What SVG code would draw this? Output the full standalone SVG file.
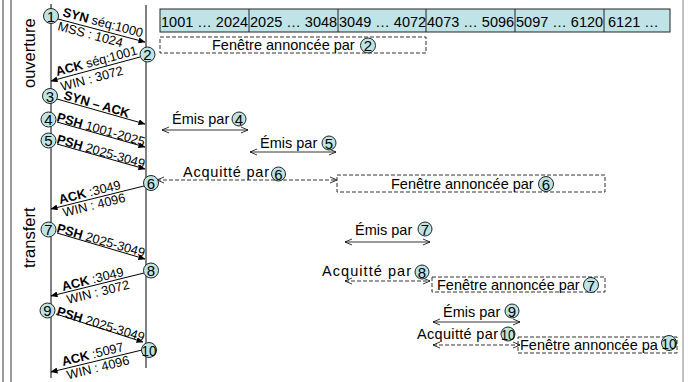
<svg xmlns="http://www.w3.org/2000/svg" width="693" height="382" viewBox="0 0 693 382">
<defs>
<marker id="ah" markerWidth="7" markerHeight="6" refX="6.5" refY="3" orient="auto" markerUnits="userSpaceOnUse"><path d="M0,0 L7,3 L0,6 z" fill="#000"/></marker>
<marker id="ov" markerWidth="8" markerHeight="8" refX="7" refY="4" orient="auto-start-reverse" markerUnits="userSpaceOnUse"><path d="M0,1 L7,4 L0,7" fill="none" stroke="#000" stroke-width="0.8"/></marker>
</defs>
<style>
text{font-family:"Liberation Sans",Arial,sans-serif;fill:#000}
.lbl{font-size:12.8px}
.b{font-weight:bold}
.num{font-size:15px;text-anchor:middle}
.cell{font-size:14.5px}
.big{font-size:14.5px}
.acq{font-size:14.5px}
.side{font-size:16.5px}
circle.n{fill:#bde3e3;stroke:#222;stroke-width:1}
.msg{stroke:#000;stroke-width:1;fill:none;marker-end:url(#ah)}
.dbl{stroke:#000;stroke-width:0.8;fill:none;marker-start:url(#ov);marker-end:url(#ov)}
.dsh{stroke:#000;stroke-width:0.8;fill:none;stroke-dasharray:4,2;marker-start:url(#ov);marker-end:url(#ov)}
.win{fill:none;stroke:#333;stroke-width:1;stroke-dasharray:4,2}
.tl{stroke:#000;stroke-width:1}
</style>
<rect width="693" height="382" fill="#fff"/>
<g id="frame">
<line x1="3" y1="0" x2="3" y2="382" stroke="#333" stroke-width="1"/>
<line x1="11" y1="0" x2="11" y2="382" stroke="#333" stroke-width="1"/>
<line x1="683" y1="0" x2="683" y2="382" stroke="#999" stroke-width="1.2"/>
<text class="side" transform="translate(35,88) rotate(-90)">ouverture</text>
<text class="side" transform="translate(35,268) rotate(-90)">transfert</text>
</g>
<g id="timelines">
<line class="tl" x1="51" y1="4" x2="51" y2="378"/>
<line class="tl" x1="146" y1="5" x2="146" y2="368"/>
</g>
<g id="seqbar">
<rect x="160" y="9" width="510" height="23" fill="#bfe3e6" stroke="#222" stroke-width="1"/>
<line x1="249" y1="9" x2="249" y2="32" stroke="#222"/>
<line x1="338" y1="9" x2="338" y2="32" stroke="#222"/>
<line x1="426" y1="9" x2="426" y2="32" stroke="#222"/>
<line x1="515" y1="9" x2="515" y2="32" stroke="#222"/>
<line x1="604" y1="9" x2="604" y2="32" stroke="#222"/>
<text class="cell" x="161" y="27">1001 … 2024</text>
<text class="cell" x="250" y="27">2025 … 3048</text>
<text class="cell" x="339" y="27">3049 … 4072</text>
<text class="cell" x="427" y="27">4073 … 5096</text>
<text class="cell" x="516" y="27">5097 … 6120</text>
<text class="cell" x="608" y="27">6121 …</text>
</g>
<g id="connectors">
<line class="msg" x1="58" y1="19" x2="145" y2="42"/>
<line class="msg" x1="140" y1="57" x2="51" y2="81"/>
<line class="msg" x1="57" y1="99" x2="145" y2="124"/>
<line class="msg" x1="57" y1="122" x2="145" y2="147"/>
<line class="msg" x1="57" y1="144" x2="145" y2="169"/>
<line class="msg" x1="144" y1="186" x2="51" y2="209"/>
<line class="msg" x1="57" y1="233" x2="145" y2="259"/>
<line class="msg" x1="144" y1="273" x2="51" y2="296"/>
<line class="msg" x1="56" y1="314" x2="143" y2="342"/>
<line class="msg" x1="142" y1="350" x2="51" y2="372"/>
<line class="dbl" x1="162" y1="130" x2="248" y2="130"/>
<line class="dbl" x1="250" y1="152" x2="336" y2="152"/>
<line class="dsh" x1="157" y1="180" x2="337" y2="180"/>
<line class="dbl" x1="345" y1="242" x2="430" y2="242"/>
<line class="dsh" x1="345" y1="281" x2="430" y2="281"/>
<line class="dbl" x1="433" y1="322" x2="520" y2="322"/>
<line class="dsh" x1="433" y1="345" x2="520" y2="345"/>
</g>
<g id="msglabels">
<text class="lbl" transform="translate(62,16) rotate(15)"><tspan class="b">SYN</tspan> séq:1000</text>
<text class="lbl" transform="translate(57,30) rotate(15)">MSS : 1024</text>
<text class="lbl" transform="translate(57,76) rotate(-15)"><tspan class="b">ACK</tspan> séq:1001</text>
<text class="lbl" transform="translate(62,91) rotate(-15)">WIN : 3072</text>
<text class="lbl b" transform="translate(63,99) rotate(16)">SYN – ACK</text>
<text class="lbl" transform="translate(56,121) rotate(16)"><tspan class="b">PSH</tspan> 1001-2025</text>
<text class="lbl" transform="translate(56,143) rotate(16)"><tspan class="b">PSH</tspan> 2025-3049</text>
<text class="lbl" transform="translate(60,204) rotate(-14)"><tspan class="b">ACK</tspan> :3049</text>
<text class="lbl" transform="translate(64,217) rotate(-14)">WIN : 4096</text>
<text class="lbl" transform="translate(56,232) rotate(16)"><tspan class="b">PSH</tspan> 2025-3049</text>
<text class="lbl" transform="translate(63,291) rotate(-14)"><tspan class="b">ACK</tspan> :3049</text>
<text class="lbl" transform="translate(68,304) rotate(-14)">WIN : 3072</text>
<text class="lbl" transform="translate(56,315) rotate(17)"><tspan class="b">PSH</tspan> 2025-3049</text>
<text class="lbl" transform="translate(63,366) rotate(-14)"><tspan class="b">ACK</tspan> :5097</text>
<text class="lbl" transform="translate(68,379.5) rotate(-14)">WIN : 4096</text>
</g>
<g id="win2">
<rect class="win" x="160" y="37" width="266" height="16"/>
<text class="big" x="212" y="50">Fenêtre annoncée par</text>
<circle class="n" cx="368" cy="45.5" r="7.5"/><text class="num" x="368" y="51">2</text>
</g>
<g id="win6">
<rect class="win" x="337" y="175" width="268" height="17"/>
<text class="big" x="391" y="189">Fenêtre annoncée par</text>
<circle class="n" cx="546" cy="184" r="7.5"/><text class="num" x="546" y="189.5">6</text>
</g>
<g id="win7">
<rect class="win" x="432" y="277" width="173" height="15"/>
<text class="big" x="437" y="290">Fenêtre annoncée par</text>
<circle class="n" cx="591" cy="285" r="7.5"/><text class="num" x="591" y="290.5">7</text>
</g>
<g id="win10">
<rect class="win" x="518" y="337" width="159" height="16"/>
<text class="big" x="520" y="350">Fenêtre annoncée pa</text>
<circle class="n" cx="669" cy="343" r="7.5"/><text class="num" x="669" y="348.5" textLength="15" lengthAdjust="spacingAndGlyphs">10</text>
</g>
<g id="ranges">
<text class="big" x="172" y="124">Émis par</text>
<circle class="n" cx="239" cy="119" r="7"/><text class="num" x="239" y="124.5">4</text>
<text class="big" x="260" y="148">Émis par</text>
<circle class="n" cx="329" cy="143" r="7"/><text class="num" x="329" y="148.5">5</text>
<text class="acq" x="183" y="177" textLength="86" lengthAdjust="spacing">Acquitté par</text>
<circle class="n" cx="278.5" cy="174" r="7"/><text class="num" x="278.5" y="179.5">6</text>
<text class="big" x="355" y="235">Émis par</text>
<circle class="n" cx="425" cy="229" r="7"/><text class="num" x="425" y="234.5">7</text>
<text class="acq" x="322" y="276" textLength="89" lengthAdjust="spacing">Acquitté par</text>
<circle class="n" cx="422" cy="272" r="7"/><text class="num" x="422" y="277.5">8</text>
<text class="big" x="443" y="317">Émis par</text>
<circle class="n" cx="512" cy="311" r="7"/><text class="num" x="512" y="316.5">9</text>
<text class="acq" x="417" y="339" textLength="81" lengthAdjust="spacing">Acquitté par</text>
<circle class="n" cx="508" cy="334" r="7"/><text class="num" x="508" y="339.5" textLength="14" lengthAdjust="spacingAndGlyphs">10</text>
</g>
<g id="n1"><circle class="n" cx="51" cy="16" r="7.5"/><text class="num" x="51" y="21.5">1</text></g>
<g id="n2"><circle class="n" cx="147.5" cy="54.5" r="7.5"/><text class="num" x="147.5" y="60">2</text></g>
<g id="n3"><circle class="n" cx="50" cy="96" r="7.5"/><text class="num" x="50" y="101.5">3</text></g>
<g id="n4"><circle class="n" cx="48.5" cy="119.5" r="7.5"/><text class="num" x="48.5" y="125">4</text></g>
<g id="n5"><circle class="n" cx="48.5" cy="140.5" r="7.5"/><text class="num" x="48.5" y="146">5</text></g>
<g id="n6"><circle class="n" cx="151" cy="183" r="7.5"/><text class="num" x="151" y="188.5">6</text></g>
<g id="n7"><circle class="n" cx="48.5" cy="229.5" r="7.5"/><text class="num" x="48.5" y="235">7</text></g>
<g id="n8"><circle class="n" cx="151" cy="270.5" r="7.5"/><text class="num" x="151" y="276">8</text></g>
<g id="n9"><circle class="n" cx="47.5" cy="310.5" r="7.5"/><text class="num" x="47.5" y="316">9</text></g>
<g id="n10"><circle class="n" cx="149" cy="350" r="7.5"/><text class="num" x="149" y="355.5" textLength="15" lengthAdjust="spacingAndGlyphs">10</text></g>
</svg>
